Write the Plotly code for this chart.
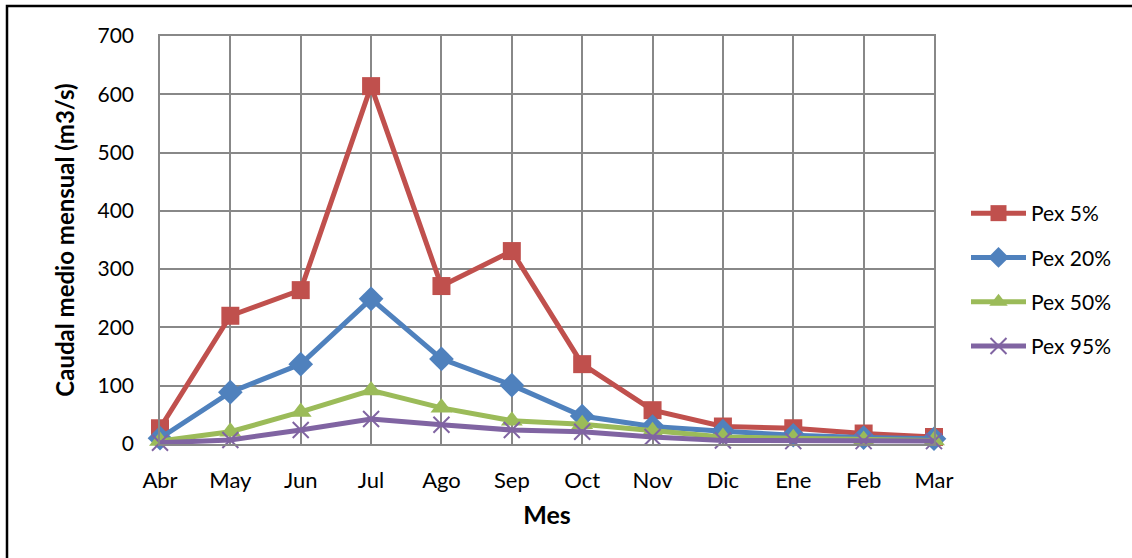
import plotly.graph_objects as go

months = ["Abr", "May", "Jun", "Jul", "Ago", "Sep", "Oct", "Nov", "Dic", "Ene", "Feb", "Mar"]
pex5 = [27, 220, 264, 614, 271, 331, 137, 58, 30, 27, 18, 12]
pex20 = [10, 89, 137, 249, 146, 101, 48, 30, 22, 15, 11, 9]
pex50 = [5, 21, 55, 92, 62, 40, 34, 22, 12, 10, 7, 6]
pex95 = [2, 7, 24, 43, 33, 24, 21, 12, 6, 5, 5, 5]
y_ticks = [0, 100, 200, 300, 400, 500, 600, 700]

series = [
    ("Pex 5%", pex5, "#C0504D", "square", 18),
    ("Pex 20%", pex20, "#4F81BD", "diamond", 19),
    ("Pex 50%", pex50, "#9BBB59", "triangle-up", 19),
    ("Pex 95%", pex95, "#8064A2", "x-thin", 16),
]

fig = go.Figure()
for name, vals, col, sym, size in series:
    fig.add_trace(go.Scatter(
        x=months, y=vals, name=name, mode="lines+markers",
        line=dict(color=col, width=5),
        marker=dict(symbol=sym, size=size, color=col,
                    line=dict(color=col, width=2 if sym == "x-thin" else 0)),
        cliponaxis=False, legendgroup=name,
    ))

FONT = "Lato, 'Open Sans', sans-serif"
W, H = 1132, 558
L, R, T, B = 160, 198, 36, 114
pw, ph = W - L - R, H - T - B

def px_x(p):
    return (p - L) / pw

def px_y(p):
    return (H - B - p) / ph

fig.update_layout(
    width=W, height=H,
    margin=dict(l=L, r=R, t=T, b=B),
    paper_bgcolor="white", plot_bgcolor="white",
    font=dict(family=FONT, size=21, color="black"),
    showlegend=True,
    legend=dict(x=px_x(966), y=px_y(193), xanchor="left", yanchor="top",
                font=dict(size=21), tracegroupgap=14, itemwidth=55,
                bgcolor="rgba(0,0,0,0)"),
    xaxis=dict(
        type="category", range=[0, 11], showgrid=True, gridcolor="#888888", gridwidth=1.5,
        showline=True, linecolor="#888888", linewidth=1.5, mirror=True,
        ticks="", ticklabelstandoff=16, tickfont=dict(size=22),
        title=dict(text="<b>Mes</b>", font=dict(size=25), standoff=14),
        zeroline=False,
    ),
    yaxis=dict(
        range=[0, 700], tickvals=y_ticks, showgrid=True, gridcolor="#888888", gridwidth=1.5,
        showline=True, linecolor="#888888", linewidth=1.5, mirror=True,
        ticks="", ticklabelstandoff=20, tickfont=dict(size=21),
        title=dict(text="<b>Caudal medio mensual (m3/s)</b>", font=dict(size=24), standoff=16),
        zeroline=False,
    ),
    shapes=[dict(type="rect", xref="paper", yref="paper",
                 x0=px_x(7), x1=px_x(1145), y0=px_y(575), y1=px_y(6),
                 line=dict(color="black", width=2.5), fillcolor="rgba(0,0,0,0)", layer="below")],
)

fig.write_html("out.html", config={"displayModeBar": False},
               post_script="document.body.style.margin='0';document.body.style.padding='0';")
